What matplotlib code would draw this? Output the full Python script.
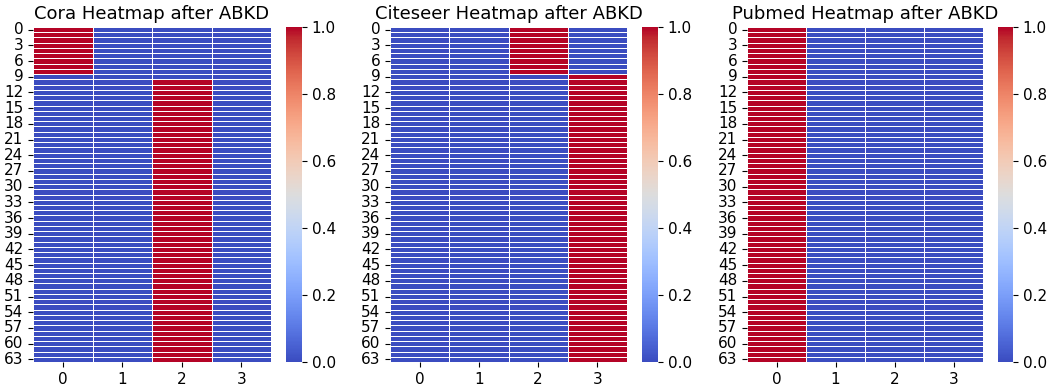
import numpy as np
import matplotlib
matplotlib.use("Agg")
import matplotlib.pyplot as plt
import seaborn as sns

n_rows = 64
n_cols = 4
titles = ["Cora Heatmap after ABKD", "Citeseer Heatmap after ABKD", "Pubmed Heatmap after ABKD"]

# (start_row, end_row_exclusive, hot_column) segments for each dataset
cora_segments = [(0, 9, 0), (10, 64, 2)]
citeseer_segments = [(0, 9, 2), (9, 64, 3)]
pubmed_segments = [(0, 64, 0)]

def build(segments):
    m = np.zeros((n_rows, n_cols))
    for s, e, c in segments:
        m[s:e, c] = 1.0
    return m

datasets = [build(cora_segments), build(citeseer_segments), build(pubmed_segments)]

W, H = 1048, 385
fig = plt.figure(figsize=(W / 100, H / 100), dpi=100)

# pixel layout: (heat_left, heat_right, cbar_left, cbar_right)
layout = [(33, 271, 286, 302), (390, 627, 642, 658), (747, 983, 998, 1013)]
top_px, bot_px = 27, 362

for (hl, hr, cl, cr), data, title in zip(layout, datasets, titles):
    ax = fig.add_axes([hl / W, (H - bot_px) / H, (hr - hl) / W, (bot_px - top_px) / H])
    cax = fig.add_axes([cl / W, (H - bot_px) / H, (cr - cl) / W, (bot_px - top_px) / H])
    sns.heatmap(data, ax=ax, cbar_ax=cax, cmap="coolwarm", vmin=0, vmax=1,
                linewidths=0.5, linecolor="white")
    ax.set_yticks(np.arange(0, n_rows, 3) + 0.5)
    ax.set_yticklabels([str(i) for i in range(0, n_rows, 3)], rotation=0)
    ax.set_title(title, fontsize=13)
    ax.tick_params(labelsize=11)
    cax.tick_params(labelsize=11)

fig.savefig("out.png", dpi=100)
